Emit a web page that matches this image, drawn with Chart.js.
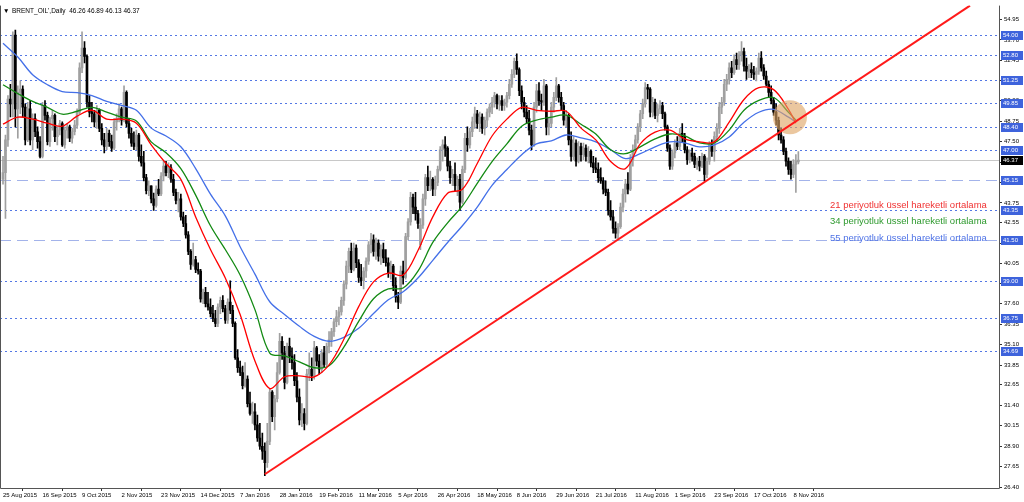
<!DOCTYPE html>
<html lang="tr">
<head>
<meta charset="UTF-8">
<title>BRENT_OIL Daily</title>
<script src="https://cdn.jsdelivr.net/npm/chart.js"></script>
<style>
    body { margin: 0; background: #fff; }
    #wrap { width: 1024px; height: 502px; }
</style>
</head>
<body>
<div id="wrap"><canvas id="chart" width="1024" height="502"></canvas></div>
<script>
// date labels under the chart, one every 16 bars
const xLabels = ['25 Aug 2015','16 Sep 2015','9 Oct 2015','2 Nov 2015','23 Nov 2015','14 Dec 2015','7 Jan 2016',
    '28 Jan 2016','19 Feb 2016','11 Mar 2016','5 Apr 2016','26 Apr 2016','18 May 2016','8 Jun 2016','29 Jun 2016',
    '21 Jul 2016','11 Aug 2016','1 Sep 2016','23 Sep 2016','17 Oct 2016','8 Nov 2016'];
const xLabelBars = [0,16,32,48,64,80,96,112,128,144,160,176,192,208,224,240,256,272,288,304,320];

// price scale labels
const yTicks = [54.95,53.70,52.45,51.20,50.00,48.75,47.50,46.25,45.00,43.75,42.55,41.30,40.05,38.85,37.60,36.35,35.10,33.85,32.65,31.40,30.15,28.90,27.65,26.40];

// daily candles
const opens = [
45.2,45.6,47.6,50.1,49.8,54.0,49.5,50.5,50.7,49.6,
47.6,49.5,47.6,48.9,48.1,47.5,46.6,49.7,49.1,47.5,
48.9,49.1,47.8,48.2,48.6,47.3,48.2,48.4,47.7,48.1,
48.5,49.3,52.0,53.2,52.7,49.9,49.3,49.2,48.7,49.4,
48.3,47.6,47.2,48.0,47.5,47.1,48.7,48.9,49.5,48.8,
50.5,48.6,48.0,47.4,47.2,47.9,46.6,46.2,45.3,44.5,
44.8,44.0,43.6,44.6,44.3,45.4,46.0,45.6,45.9,45.2,
44.4,43.9,44.0,42.9,42.5,41.8,40.8,40.0,40.3,39.7,
39.6,37.9,38.3,37.6,37.4,37.0,36.7,36.4,37.4,37.8,
37.3,36.6,37.7,37.2,36.4,34.3,33.7,33.4,32.6,33.0,
31.5,30.9,31.0,30.2,29.4,28.9,28.6,27.9,29.2,32.2,
30.7,31.8,33.4,35.3,34.6,32.8,35.0,34.4,34.0,32.9,
31.9,30.5,30.9,30.3,33.3,33.6,33.2,34.9,34.1,33.6,
34.6,33.9,35.0,35.4,35.9,36.5,36.8,37.1,37.8,38.8,
39.9,40.8,39.7,41.0,40.1,39.2,39.0,39.6,40.2,41.2,
41.5,40.8,41.3,40.5,40.9,40.4,40.1,39.5,39.9,38.7,
38.0,37.7,39.6,39.2,41.7,42.6,44.1,43.5,43.1,41.2,
42.4,44.0,45.3,44.8,45.2,44.6,45.0,45.8,47.0,47.3,
47.1,46.0,45.3,45.5,44.8,45.2,43.8,45.8,47.7,47.3,
48.1,48.7,49.2,48.6,49.0,48.3,48.8,49.3,49.6,49.9,
50.3,49.8,50.0,49.7,49.9,50.3,51.0,51.6,52.4,51.9,
50.6,49.9,49.3,48.9,48.2,47.3,49.6,50.6,50.0,49.9,
50.9,48.4,48.6,49.6,50.2,50.9,50.2,49.7,48.8,49.1,
47.6,46.6,47.4,46.3,47.2,46.7,47.1,46.6,46.9,46.2,
45.9,45.8,45.3,45.1,44.6,44.4,43.3,42.9,42.2,41.9,
42.3,43.5,44.3,44.9,44.6,46.4,47.0,47.6,48.4,49.2,
49.8,50.8,50.7,49.3,49.9,49.1,49.5,49.7,49.2,48.4,
47.1,46.0,46.8,47.4,47.2,48.0,47.8,47.0,46.4,46.8,
46.6,46.1,46.3,46.0,46.6,45.5,46.3,47.3,46.9,47.8,
48.3,49.6,49.9,51.0,51.3,52.0,51.7,52.5,52.2,52.8,
53.0,52.1,51.8,51.9,51.7,51.6,51.8,52.6,52.0,51.5,
51.0,50.5,50.0,49.3,48.8,47.9,47.6,46.9,46.3,45.8,
45.5,46.1,46.26];
const highs = [
46.6,47.9,50.3,51.0,54.2,54.3,50.9,51.2,50.9,49.8,
49.9,50.0,49.2,49.2,48.4,47.8,49.9,50.0,49.3,49.0,
49.4,49.2,48.4,48.8,48.7,48.4,48.6,48.5,48.3,48.8,
49.5,52.3,54.2,53.6,52.8,50.3,49.9,49.4,49.7,49.5,
48.6,48.0,48.3,48.2,47.9,48.9,49.2,49.8,49.6,50.9,
50.6,48.9,48.3,48.1,48.2,48.0,47.3,46.9,45.5,45.1,
44.8,44.35,44.8,45.2,45.6,46.3,46.3,46.2,46.1,45.5,
44.6,44.4,44.3,43.2,43.0,42.0,40.9,41.3,40.5,40.1,
39.7,38.5,38.6,38.3,37.9,37.5,37.2,37.6,38.0,38.1,
37.5,37.9,39.0,37.5,36.5,34.8,34.1,33.8,34.0,33.2,
32.2,31.6,31.5,30.8,30.3,29.7,29.1,30.3,32.4,32.3,
32.0,34.0,35.8,35.6,35.0,35.2,35.5,34.9,34.5,33.4,
32.4,31.5,31.2,33.6,34.6,34.3,35.3,35.0,34.5,34.8,
35.0,35.2,35.9,36.1,36.7,37.2,37.4,38.0,39.0,40.2,
41.0,41.3,41.3,41.2,40.3,40.0,39.8,40.4,41.4,41.9,
41.8,41.6,41.5,41.2,41.3,40.9,40.4,40.2,40.0,39.2,
38.3,39.9,40.2,41.9,42.8,44.4,44.3,44.4,43.3,42.8,
44.3,45.5,46.0,45.7,45.3,45.4,46.0,47.2,47.6,47.8,
47.2,46.3,45.8,46.2,45.4,45.5,46.0,48.0,48.4,48.3,
49.0,49.6,49.4,49.3,49.2,49.0,49.5,49.8,50.2,50.5,
50.4,50.3,50.3,50.1,50.5,51.3,51.9,52.6,52.85,52.0,
50.9,50.2,49.7,49.4,48.5,49.9,51.0,51.1,50.4,51.3,
51.0,49.0,49.9,50.5,51.4,51.0,50.5,49.9,49.4,49.2,
48.1,47.8,47.6,47.5,47.4,47.4,47.3,47.2,47.0,46.6,
46.5,46.2,45.9,45.3,45.1,44.6,43.9,43.3,42.6,42.5,
43.75,44.6,45.2,45.6,46.7,47.3,47.9,48.6,49.4,50.1,
51.1,51.0,50.8,50.2,50.1,49.8,50.0,49.9,49.3,48.5,
47.3,47.0,47.6,47.8,48.3,48.6,48.0,47.2,47.0,47.1,
46.8,46.5,46.6,46.8,46.7,46.5,47.5,47.6,48.1,48.6,
49.9,50.2,51.3,51.6,52.3,52.4,52.8,52.9,53.0,53.6,
53.2,52.6,52.2,52.3,52.1,52.0,52.9,53.0,52.2,51.8,
51.2,50.9,50.2,49.8,49.0,48.3,47.8,47.1,46.5,46.3,
46.4,46.7,46.89];
const lows = [
44.9,42.8,47.2,49.0,49.0,48.4,47.7,49.2,49.0,47.3,
47.5,47.3,47.0,47.8,47.1,46.5,46.5,48.8,47.3,47.2,
48.2,47.5,47.3,47.9,47.2,47.1,47.7,47.5,47.4,47.9,
48.3,49.2,51.7,52.3,49.6,49.0,48.7,48.4,48.3,48.1,
47.3,46.8,47.0,47.2,46.9,47.0,48.2,48.7,48.5,48.7,
48.4,47.7,47.2,47.0,47.0,46.3,46.0,45.1,44.3,44.2,
43.75,43.3,43.5,44.2,44.2,45.1,45.4,45.3,45.0,44.2,
43.7,43.2,42.7,42.3,41.6,40.6,39.7,39.9,39.5,39.4,
37.7,37.6,37.4,37.2,36.8,36.5,36.2,36.2,37.0,37.1,
36.4,36.4,37.0,36.2,34.2,33.4,33.2,32.4,32.5,31.3,
30.8,30.3,29.9,29.2,28.7,28.1,27.1,27.6,29.0,30.4,
29.9,31.6,33.3,34.2,32.4,32.7,34.0,33.6,32.6,31.6,
30.2,30.1,29.9,30.2,32.9,32.9,33.0,33.8,33.3,33.4,
33.7,33.8,34.6,35.0,35.6,36.2,36.3,36.9,37.5,38.5,
39.5,39.5,39.6,39.8,38.9,38.7,38.5,39.2,40.0,40.7,
40.5,40.3,40.2,40.0,40.1,39.9,39.2,39.1,38.4,37.7,
37.3,37.6,38.8,39.1,41.5,42.4,43.1,42.7,42.2,40.9,
42.2,43.6,44.5,44.5,44.2,44.2,44.8,45.7,46.3,46.6,
45.7,44.95,44.8,44.5,44.2,43.3,43.7,45.6,46.9,47.1,
47.8,48.3,48.3,48.1,48.0,47.9,48.4,49.0,49.2,49.6,
49.5,49.4,49.4,49.4,49.6,50.1,50.8,51.4,51.6,50.3,
49.5,49.0,48.6,47.9,47.0,47.2,49.3,49.7,49.4,49.7,
47.9,47.9,48.4,49.3,50.0,49.9,49.4,48.5,48.4,47.3,
46.3,46.4,46.0,46.2,46.3,46.4,46.3,46.2,45.95,45.6,
45.6,45.0,44.95,44.3,44.2,43.0,42.7,41.9,41.6,41.5,
42.2,43.2,43.8,44.3,44.5,46.0,46.8,47.4,48.1,48.9,
49.6,50.1,49.0,49.0,48.9,48.7,49.2,48.9,48.2,46.9,
45.8,45.8,46.5,47.0,47.0,47.5,46.8,46.1,46.2,46.3,
45.9,45.8,45.7,45.9,45.1,45.3,46.1,46.6,46.3,47.5,
48.0,49.2,49.7,50.6,51.0,51.4,51.6,51.9,51.9,52.4,
51.8,51.3,51.4,51.4,51.3,51.2,51.6,51.8,51.3,50.9,
50.2,49.8,49.1,48.5,47.6,47.4,46.7,46.0,45.5,45.2,
45.3,44.4,46.13];
const closes = [
45.6,47.6,50.1,49.8,54.0,49.5,50.5,50.7,49.6,47.6,
49.5,47.6,48.9,48.1,47.5,46.6,49.7,49.1,47.5,48.9,
49.1,47.8,48.2,48.6,47.3,48.2,48.4,47.7,48.1,48.5,
49.3,52.0,53.2,52.7,49.9,49.3,49.2,48.7,49.4,48.3,
47.6,47.2,48.0,47.5,47.1,48.7,48.9,49.5,48.8,50.5,
48.6,48.0,47.4,47.2,47.9,46.6,46.2,45.3,44.5,44.8,
44.0,43.6,44.6,44.3,45.4,46.0,45.6,45.9,45.2,44.4,
43.9,44.0,42.9,42.5,41.8,40.8,40.0,40.3,39.7,39.6,
37.9,38.3,37.6,37.4,37.0,36.7,36.4,37.4,37.8,37.3,
36.6,37.7,37.2,36.4,34.3,33.7,33.4,32.6,33.0,31.5,
30.9,31.0,30.2,29.4,28.9,28.6,27.9,29.2,32.2,30.7,
31.8,33.4,35.3,34.6,32.8,35.0,34.4,34.0,32.9,31.9,
30.5,30.9,30.3,33.3,33.6,33.2,34.9,34.1,33.6,34.6,
33.9,35.0,35.4,35.9,36.5,36.8,37.1,37.8,38.8,39.9,
40.8,39.7,41.0,40.1,39.2,39.0,39.6,40.2,41.2,41.5,
40.8,41.3,40.5,40.9,40.4,40.1,39.5,39.9,38.7,38.0,
37.7,39.6,39.2,41.7,42.6,44.1,43.5,43.1,42.5,42.4,
44.0,45.3,44.8,45.2,44.6,45.0,45.8,47.0,47.3,47.1,
46.0,45.3,45.5,44.8,45.2,43.8,45.8,47.7,47.3,48.1,
48.7,49.2,48.6,49.0,48.3,48.8,49.3,49.6,49.9,50.3,
49.8,50.0,49.7,49.9,50.3,51.0,51.6,52.4,51.9,50.6,
49.9,49.3,48.9,48.2,47.3,49.6,50.6,50.0,49.9,50.9,
48.4,48.6,49.6,50.2,50.9,50.2,49.7,48.8,49.1,47.6,
46.6,47.4,46.3,47.2,46.7,47.1,46.6,46.9,46.2,45.9,
45.8,45.3,45.1,44.6,44.4,43.3,42.9,42.2,41.9,42.3,
43.5,44.3,44.9,44.6,46.4,47.0,47.6,48.4,49.2,49.8,
50.8,50.7,49.3,49.9,49.1,49.5,49.7,49.2,48.4,47.1,
46.0,46.8,47.4,47.2,48.0,47.8,47.0,46.4,46.8,46.6,
46.1,46.3,46.0,46.6,45.5,46.3,47.3,46.9,47.8,48.3,
49.6,49.9,51.0,51.3,52.0,51.7,52.5,52.2,52.8,53.0,
52.1,51.8,51.9,51.7,51.6,51.8,52.6,52.0,51.5,51.0,
50.5,50.0,49.3,48.8,47.9,47.6,46.9,46.3,45.8,45.5,
46.1,46.3,46.37];

// moving averages every 6 bars
const emaBars = [0,6,12,18,24,30,36,42,48,54,60,66,72,78,84,90,96,102,108,114,120,126,132,138,144,150,
    156,162,168,174,180,186,192,198,204,210,216,222,228,234,240,246,252,258,264,270,276,282,288,294,300,306,312,318,321];
const ema21 = [48.56,48.99,48.87,48.62,48.44,49.05,49.41,48.87,48.87,48.62,47.30,46.16,45.19,42.90,40.91,39.17,36.94,34.11,32.42,33.14,
    33.20,33.14,33.87,35.43,37.42,38.93,39.47,39.35,40.85,42.90,44.35,44.59,46.16,47.84,48.87,49.59,49.41,49.35,49.35,48.32,
    47.60,46.28,45.85,47.36,48.08,48.20,47.66,47.48,47.48,48.69,50.07,50.79,50.67,49.47,48.62];
const ema34 = [50.97,50.43,49.95,49.59,49.17,49.35,49.59,49.29,48.99,48.75,47.48,46.82,45.85,44.23,42.36,40.91,39.35,37.24,34.59,34.41,
    34.05,33.69,33.81,34.95,36.52,37.90,38.50,38.56,39.59,41.34,42.54,43.57,44.95,46.28,47.36,48.44,48.81,48.99,49.11,48.56,
    47.96,47.00,46.76,47.18,47.66,47.96,47.84,47.42,47.42,48.20,49.41,50.01,50.19,49.29,48.81];
const ema55 = [53.50,52.66,51.58,50.97,50.55,50.49,50.31,49.95,49.71,49.41,48.32,47.84,47.18,45.85,44.29,42.96,41.08,39.41,37.72,36.94,
    36.22,35.61,35.31,35.55,36.10,37.00,37.84,38.33,39.17,40.25,41.34,42.36,43.50,44.83,45.79,46.70,47.36,47.54,47.90,47.72,
    47.48,47.00,46.46,46.76,47.18,47.48,47.42,47.18,47.30,47.78,48.68,49.29,49.47,48.99,48.68];
const emaNames = ['21 periyotluk üssel hareketli ortalama','34 periyotluk üssel hareketli ortalama','55 periyotluk üssel hareketli ortalama'];

// horizontal levels, trend line and the marked area
const dottedLevels = [54.00,52.80,51.25,49.85,48.40,47.00,43.35,39.00,36.75,34.69];
const dashedLevels = [45.15,41.50];
const lastPrice = 46.37;
const trendBars = [106, 391.5];
const trendPrices = [27.19, 55.8];
const markBar = 318.6;
const markPrice = 48.98;

const FONT = '"Liberation Sans", Arial, sans-serif';
const last = closes.length - 1;
const isUp = i => closes[i] >= opens[i];
const candleColor = c => isUp(c.dataIndex) ? '#a0a0a0' : '#000000';

const mtDecor = {
    id: 'mtDecor',
    beforeDatasetsDraw(chart) {
        const {ctx, chartArea: a, scales: {y}} = chart;
        ctx.save();
        ctx.lineWidth = 1;
        const hline = v => {
            const py = Math.round(y.getPixelForValue(v)) + 0.5;
            ctx.beginPath(); ctx.moveTo(a.left, py); ctx.lineTo(a.right, py); ctx.stroke();
        };
        ctx.strokeStyle = '#c8c8c8';
        hline(lastPrice);
        ctx.strokeStyle = '#5478e4';
        ctx.setLineDash([2, 3]);
        dottedLevels.forEach(hline);
        ctx.strokeStyle = '#a3b3ea';
        ctx.setLineDash([11, 6]);
        dashedLevels.forEach(hline);
        ctx.restore();
    },
    afterDraw(chart) {
        const {ctx, chartArea: a, scales: {y}} = chart;
        ctx.save();
        // frame
        ctx.strokeStyle = '#555';
        ctx.lineWidth = 1;
        ctx.beginPath();
        ctx.moveTo(a.left + 0.5, a.top); ctx.lineTo(a.left + 0.5, a.bottom + 0.5);
        ctx.lineTo(a.right + 0.5, a.bottom + 0.5); ctx.lineTo(a.right + 0.5, a.top);
        ctx.stroke();
        // price boxes on the right scale
        ctx.font = '6px ' + FONT;
        ctx.textBaseline = 'middle';
        const box = (v, fill) => {
            const py = Math.round(y.getPixelForValue(v));
            ctx.fillStyle = fill;
            ctx.fillRect(a.right + 2, py - 4, 22, 9);
            ctx.fillStyle = '#ffffff';
            ctx.fillText(v.toFixed(2), a.right + 4, py + 0.5);
        };
        dottedLevels.concat(dashedLevels).forEach(v => box(v, '#3e63dc'));
        box(lastPrice, '#000000');
        // header
        ctx.fillStyle = '#000';
        ctx.font = '6.5px ' + FONT;
        ctx.fillText('\u25BC', a.left + 3, a.top + 6);
        ctx.fillText("BRENT_OIL',Daily  " + [opens[last], highs[last], lows[last], closes[last]].map(v => v.toFixed(2)).join(' '),
            a.left + 12, a.top + 6);
        // moving average captions
        ctx.font = '9.5px ' + FONT;
        ctx.textBaseline = 'alphabetic';
        const capColors = ['#f03232', '#2f9a2f', '#4f73e6'];
        emaNames.forEach((t, k) => {
            ctx.fillStyle = capColors[k];
            ctx.fillText(t, a.left + 830, a.top + 202 + k * 16.5);
        });
        ctx.restore();
    }
};

const lineOf = arr => emaBars.map((b, k) => ({x: b, y: arr[k]}));

new Chart(document.getElementById('chart'), {
    type: 'bar',
    data: {
        datasets: [
            { type: 'line', data: trendBars.map((b, k) => ({x: b, y: trendPrices[k]})), borderColor: '#ff1a1a',
              borderWidth: 2, pointRadius: 0, order: 0 },
            { type: 'line', data: [{x: markBar, y: markPrice}], showLine: false, pointRadius: 17,
              pointBackgroundColor: 'rgba(222,165,100,0.62)', pointBorderWidth: 0, order: 0 },
            { type: 'line', data: lineOf(ema21), borderColor: '#ff0000', borderWidth: 1.3, pointRadius: 0, tension: 0.35, order: 1 },
            { type: 'line', data: lineOf(ema34), borderColor: '#138a13', borderWidth: 1.3, pointRadius: 0, tension: 0.35, order: 1 },
            { type: 'line', data: lineOf(ema55), borderColor: '#4470e8', borderWidth: 1.3, pointRadius: 0, tension: 0.35, order: 1 },
            { data: opens.map((o, i) => ({x: i, y: [o, closes[i]]})), backgroundColor: candleColor,
              barThickness: 2, minBarLength: 1, grouped: false, order: 2 },
            { data: opens.map((o, i) => ({x: i, y: [lows[i], highs[i]]})), backgroundColor: candleColor,
              barThickness: 1, grouped: false, order: 3 }
        ]
    },
    options: {
        responsive: false,
        animation: false,
        layout: { padding: 0, autoPadding: false },
        plugins: { legend: { display: false }, tooltip: { enabled: false } },
        scales: {
            x: {
                type: 'linear',
                min: -3 / 2.47,
                max: -3 / 2.47 + 999 / 2.47,
                offset: false,
                border: { display: false },
                grid: { drawOnChartArea: false, tickLength: 3, color: '#333' },
                ticks: {
                    autoSkip: false, maxRotation: 0, align: 'start', padding: 1,
                    color: '#000', font: { family: FONT, size: 6 },
                    callback: v => xLabels[xLabelBars.indexOf(v)]
                },
                afterBuildTicks: s => { s.ticks = xLabelBars.map(v => ({value: v})); },
                afterFit: s => { s.height = 14; }
            },
            y: {
                position: 'right',
                min: 26.35,
                max: 55.8,
                border: { display: false },
                grid: { drawOnChartArea: false, tickLength: 3, color: '#333' },
                ticks: {
                    autoSkip: false, padding: 2, color: '#000', font: { family: FONT, size: 6 },
                    callback: v => v.toFixed(2)
                },
                afterBuildTicks: s => { s.ticks = yTicks.map(v => ({value: v})); },
                afterFit: s => { s.width = 25; }
            }
        }
    },
    plugins: [mtDecor]
});
</script>
</body>
</html>
